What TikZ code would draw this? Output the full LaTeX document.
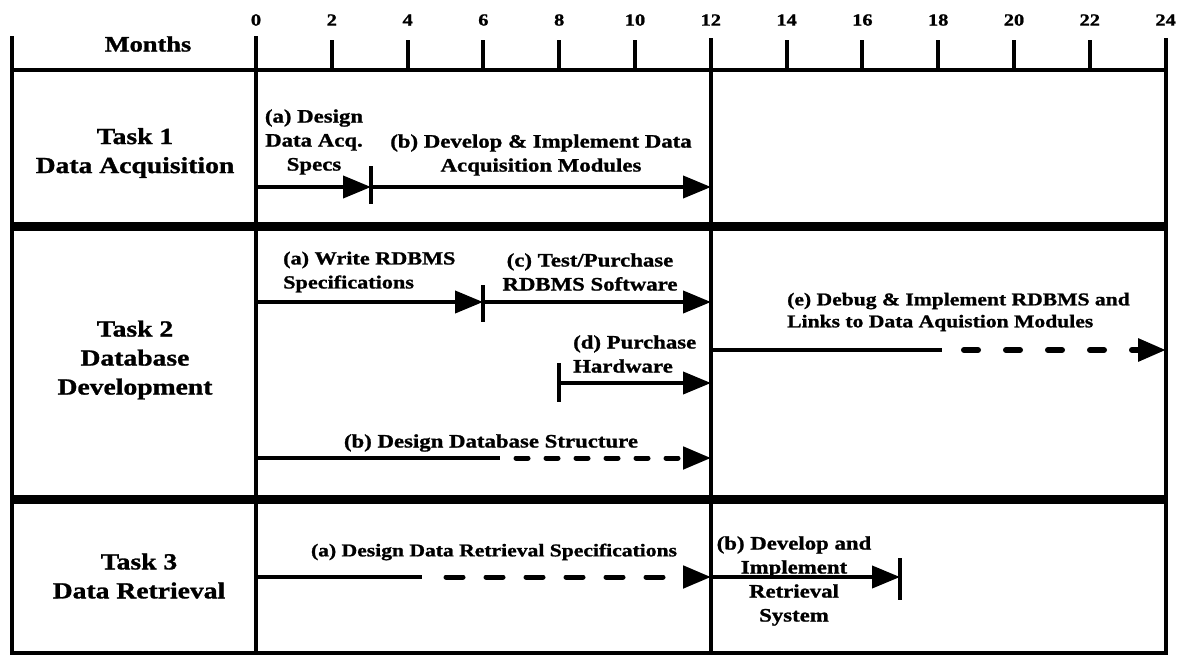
\documentclass[tikz,border=0pt]{standalone}
\usepackage{fontspec}
\setmainfont{Liberation Serif}[FakeStretch=1.2, BoldFeatures={FakeBold=1.2}]
\usetikzlibrary{arrows.meta}
\tikzset{
  frame/.style={line width=4pt, line cap=rect},
  band/.style={line width=9pt},
  tickmark/.style={line width=4pt},
  bar/.style={line width=4pt, -{Triangle[length=28pt,width=22pt]}},
  barsolid/.style={line width=4pt},
  bardash/.style={line width=5pt, line cap=round, dash pattern=on 12pt off 18pt, -{Triangle[length=28pt,width=22pt]}},
  tasklbl/.style={font=\fontsize{23}{29}\selectfont\bfseries, align=center, inner sep=0pt},
  barlbl/.style={font=\fontsize{19}{24}\selectfont\bfseries, inner sep=0pt},
  num/.style={font=\fontsize{17}{18}\selectfont\bfseries, inner sep=0pt},
}
\begin{document}
\begin{tikzpicture}[x=1pt,y=-1pt]
\useasboundingbox (0,0) rectangle (1197,659);
% frame
\coordinate (tl) at (12,38);
\coordinate (bl) at (12,653);
\coordinate (tr) at (1166,40);
\coordinate (br) at (1166,653);
\draw[frame] (tl) -- (bl) -- (br) -- (tr);
\draw[frame] (12,70) -- (1166,70);
\draw[frame] (256,38) -- (256,653);
\draw[frame] (711,40) -- (711,653);
\draw[band] (12,226) -- (1166,226);
\draw[band] (12,499) -- (1166,499);
\foreach \m in {2,4,6,8,10,14,16,18,20,22} \draw[tickmark] ({256+37.9*\m},40) -- ({256+37.9*\m},70);
\foreach \m in {0,2,...,24} \node[num] (n\m) at ({256+37.9*\m},20) {\m};
\node[font=\fontsize{22}{26}\selectfont\bfseries, inner sep=0pt] (months) at (148,44) {Months};
% task labels
\node[tasklbl] (task1) at (135,153) {Task 1\\Data Acquisition};
\node[tasklbl] (task2) at (135,360) {Task 2\\Database\\Development};
\node[tasklbl] (task3) at (139,576) {Task 3\\Data Retrieval};
% Task 1 bars
\coordinate (a1s) at (256,187);
\coordinate (a1e) at (371,187);
\coordinate (b1e) at (711,187);
\coordinate (k1t) at (371,166);
\coordinate (k1b) at (371,204);
\draw[bar] (a1s) -- (a1e);
\draw[bar] (a1e) -- (b1e);
\draw[tickmark] (k1t) -- (k1b);
\node[barlbl, align=center] (l1a) at (314,142) {(a) Design\\Data Acq.\\Specs};
\node[barlbl, align=center] (l1b) at (541,155) {(b) Develop \& Implement Data\\Acquisition Modules};
% Task 2 bars
\coordinate (a2s) at (256,302);
\coordinate (a2e) at (483,302);
\coordinate (c2e) at (711,302);
\coordinate (k2t) at (483,285);
\coordinate (k2b) at (483,322);
\draw[bar] (a2s) -- (a2e);
\draw[bar] (a2e) -- (c2e);
\draw[tickmark] (k2t) -- (k2b);
\coordinate (d2s) at (559,383);
\coordinate (d2e) at (711,383);
\coordinate (k3t) at (559,363);
\coordinate (k3b) at (559,402);
\draw[bar] (d2s) -- (d2e);
\draw[tickmark] (k3t) -- (k3b);
\coordinate (b2s) at (256,458);
\coordinate (b2m) at (500,458);
\coordinate (b2d) at (516,458);
\coordinate (b2e) at (711,458);
\draw[barsolid] (b2s) -- (b2m);
\draw[bardash] (b2d) -- (b2e);
\coordinate (e2s) at (711,350);
\coordinate (e2m) at (942,350);
\coordinate (e2d) at (964,350);
\coordinate (e2e) at (1166,350);
\draw[barsolid] (e2s) -- (e2m);
\draw[bardash, line width=6pt, dash pattern=on 14pt off 28pt] (e2d) -- (e2e);
\node[barlbl, font=\fontsize{18.5}{24}\selectfont\bfseries, align=left, anchor=west] (l2a) at (283,272) {(a) Write RDBMS\\Specifications};
\node[barlbl, align=center] (l2c) at (590,272) {(c) Test/Purchase\\RDBMS Software};
\node[barlbl, align=left, anchor=west] (l2d) at (573,354) {(d) Purchase\\Hardware};
\node[barlbl, font=\fontsize{18}{22}\selectfont\bfseries, align=left, anchor=west] (l2e) at (787,312) {(e) Debug \& Implement RDBMS and\\Links to Data Aquistion Modules};
\node[barlbl] (l2b) at (491,443) {(b) Design Database Structure};
% Task 3 bars
\coordinate (a3s) at (256,577);
\coordinate (a3m) at (422,577);
\coordinate (a3d) at (446,577);
\coordinate (a3e) at (711,577);
\draw[barsolid] (a3s) -- (a3m);
\draw[bardash, dash pattern=on 17pt off 23pt] (a3d) -- (a3e);
\coordinate (b3e) at (900,577);
\coordinate (k4t) at (900,558);
\coordinate (k4b) at (900,600);
\draw[bar] (a3e) -- (b3e);
\draw[tickmark] (k4t) -- (k4b);
\node[barlbl, font=\fontsize{18}{24}\selectfont\bfseries] (l3a) at (494,552) {(a) Design Data Retrieval Specifications};
\node[barlbl, align=center] (l3b) at (794,581) {(b) Develop and\\Implement\\Retrieval\\System};
\end{tikzpicture}
\end{document}
